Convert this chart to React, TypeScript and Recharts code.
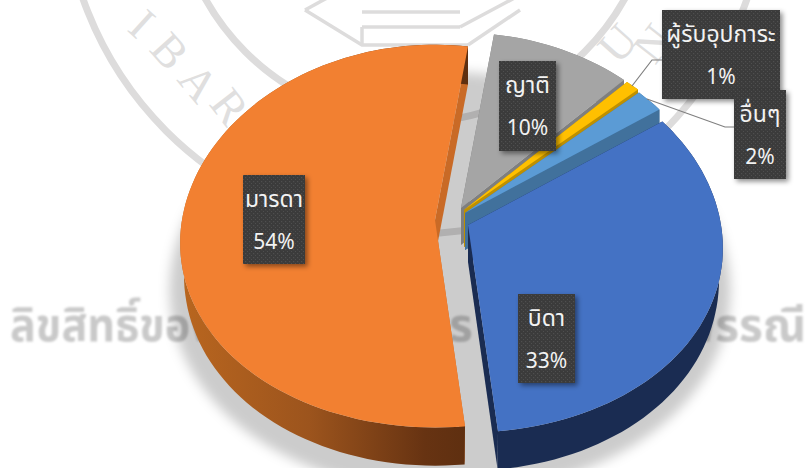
import React from "react";
import { PieChart, Pie } from "recharts";

// ---- data ----
const names = ["ญาติ", "ผู้รับอุปการะ", "อื่นๆ", "บิดา", "มารดา"];
const shares = [10, 1, 2, 33, 54];

// ---- styles ----
const topColors = ["#a5a5a5", "#ffc000", "#5b9bd5", "#4472c4", "#f28031"];
const arcColors = ["#7f7f7f", "#bf9000", "#41719c", "#1a2c52", "url(#orangeSide)"];
const edgeColors = ["#7f7f7f", "#bf9000", "#41719c", "#1a2c52", "#c96a26"];
const shifts = [[11, -9], [14, -7], [15, -4], [18, 8], [-15, 3]];
const boxes = [[499, 61, 57, 90], [662, 10, 118, 89], [734, 90, 52, 89], [518, 294, 57, 89], [243, 175, 62, 89]];
const leaders: (string | null)[] = [null, "632,86 652,60 662,60", "647,99 725,127 734,127", null, null];

const W = 808, H = 468, CX = 450, CY = 217, RADIUS = 253;
const TILT = 0.751, PERSP_Y = 0.084, PERSP_X = 0.12;
const FONT = "'Noto Sans Thai','Noto Sans','Open Sans',sans-serif";

const project = (r: number, deg: number) => {
  const t = (deg * Math.PI) / 180;
  const s = Math.sin(t);
  return [(r * Math.cos(t)) / (1 + PERSP_X * s), (-r * TILT * s) / (1 + PERSP_Y * s)];
};

// the slice's underside, seen through the camera
const projectFloor = (r: number, deg: number) => {
  const [x, y] = project(r, deg);
  if (Math.sin((deg * Math.PI) / 180) >= 0) return [x, y + 38];
  return [x * 0.985, y * 1.035 + 31];
};

const sweep = (fn: (r: number, d: number) => number[], r: number, from: number, to: number, ox: number, oy: number) => {
  const n = Math.max(2, Math.ceil(Math.abs(to - from) / 2));
  const out: number[][] = [];
  for (let i = 0; i <= n; i++) {
    const [x, y] = fn(r, from + ((to - from) * i) / n);
    out.push([x + ox, y + oy]);
  }
  return out;
};
const toPath = (pts: number[][]) => "M" + pts.map((p) => p[0].toFixed(1) + "," + p[1].toFixed(1)).join("L") + "Z";

const Slice3D = (props: any) => {
  const { cx, cy, outerRadius, startAngle, endAngle, index } = props;
  const i = index ?? names.indexOf(props.name);
  const ox = cx + shifts[i][0], oy = cy + shifts[i][1];
  const top = sweep(project, outerRadius, startAngle, endAngle, ox, oy);
  const floor = sweep(projectFloor, outerRadius, startAngle, endAngle, ox, oy);
  const apex = [ox, oy];
  const apexDown = [ox, oy + 37];
  return (
    <g>
      <path d={toPath([apex, top[0], floor[0], apexDown])} fill={edgeColors[i]} />
      <path d={toPath([apex, top[top.length - 1], floor[floor.length - 1], apexDown])} fill={edgeColors[i]} />
      <path d={toPath([...top, ...[...floor].reverse()])} fill={arcColors[i]} />
      <path d={toPath([apex, ...top])} fill={topColors[i]} />
    </g>
  );
};

const CalloutLabel = (props: any) => {
  const i = props.index;
  const [x, y, w, h] = boxes[i];
  const mid = x + w / 2;
  return (
    <g>
      {leaders[i] && <polyline points={leaders[i] as string} fill="none" stroke="#7f7f7f" strokeWidth={1.2} />}
      <rect x={x} y={y} width={w} height={h} fill="#3b3b3b" filter="url(#boxShadow)" />
      <rect x={x} y={y} width={w} height={h} fill="url(#dots)" />
      <text x={mid} y={y + 32} textAnchor="middle" fontFamily={FONT} fontSize={23} fill="#f2f2f2">{names[i]}</text>
      <text x={mid} y={y + 74} textAnchor="middle" fontFamily={FONT} fontSize={21} fill="#f2f2f2">{shares[i] + "%"}</text>
    </g>
  );
};

const Watermark = () => (
  <svg width={W} height={H} style={{ position: "absolute", left: 0, top: 0 }}>
    <defs>
      <filter id="blurShadow" filterUnits="userSpaceOnUse" x="0" y="0" width="808" height="540"><feGaussianBlur stdDeviation="6" /></filter>
      <filter id="boxShadow" x="-30%" y="-30%" width="170%" height="170%">
        <feDropShadow dx="2.5" dy="2.5" stdDeviation="2.5" floodColor="#000" floodOpacity="0.45" />
      </filter>
      <filter id="soft"><feGaussianBlur stdDeviation="0.8" /></filter>
      <pattern id="dots" width="4" height="4" patternUnits="userSpaceOnUse">
        <rect x="1" y="1" width="1.2" height="1.2" fill="#4f4f4f" />
        <rect x="3" y="3" width="1.2" height="1.2" fill="#4f4f4f" />
      </pattern>
      <linearGradient id="orangeSide" x1="0" y1="0" x2="1" y2="0">
        <stop offset="0" stopColor="#b9661f" />
        <stop offset="0.45" stopColor="#9c541d" />
        <stop offset="0.85" stopColor="#673312" />
        <stop offset="1" stopColor="#5e2f10" />
      </linearGradient>
    </defs>
    <g fill="none" stroke="#dddcdc" strokeWidth={7}>
      <circle cx={415} cy={-118} r={240} />
      <circle cx={415} cy={-118} r={352} />
    </g>
    <g fill="none" stroke="#dddcdc" strokeWidth={3.5}>
      <polyline points="305,10 362,45 468,45" />
      <polyline points="305,10 360,-20" />
      <polyline points="362,27 362,45" />
      <polyline points="362,27 460,27" />
      <polyline points="362,12 460,12" />
      <polyline points="468,45 520,10" />
      <polyline points="460,27 520,-5" />
    </g>
    <g fontFamily="'Liberation Serif',serif" fontSize={46} fill="#e0dfdf">
      <text transform="translate(148,50) rotate(48)">B</text>
      <text transform="translate(176,80) rotate(50)">A</text>
      <text transform="translate(208,104) rotate(52)">R</text>
      <text transform="translate(126,30) rotate(42)">I</text>
      <text transform="translate(618,66) rotate(-48)">U</text>
      <text transform="translate(655,66) rotate(-52)">N</text>
    </g>
    <g fontFamily={FONT} fontSize={46} fontWeight={700} fill="#c9c9c9" filter="url(#soft)">
      <text x={10} y={341} textLength={205} lengthAdjust="spacingAndGlyphs">ลิขสิทธิ์ของ</text>
      <text x={449} y={341}>ร</text>
      <text x={806} y={341} textAnchor="end">พรรณี</text>
    </g>
    <path d={toPath(sweep(project, RADIUS * 1.1, 0, 360, CX, CY + 48))} fill="#000" fillOpacity={0.2} filter="url(#blurShadow)" />
  </svg>
);

const rows = names.map((name, i) => ({ name, share: shares[i] }));

export default function App() {
  return (
    <div style={{ position: "absolute", left: 0, top: 0, width: W, height: H, overflow: "hidden", background: "#fff" }}>
      <Watermark />
      <div style={{ position: "absolute", left: 0, top: 0 }}>
        <PieChart width={W} height={H} margin={{ top: 0, right: 0, bottom: 0, left: 0 }}>
          <Pie data={rows} dataKey="share" nameKey="name" cx={CX} cy={CY} outerRadius={RADIUS} startAngle={81.6} endAngle={-278.4}
            stroke="none" isAnimationActive={false} shape={Slice3D} inactiveShape={Slice3D} activeShape={Slice3D}
            labelLine={false} label={CalloutLabel} />
        </PieChart>
      </div>
    </div>
  );
}
